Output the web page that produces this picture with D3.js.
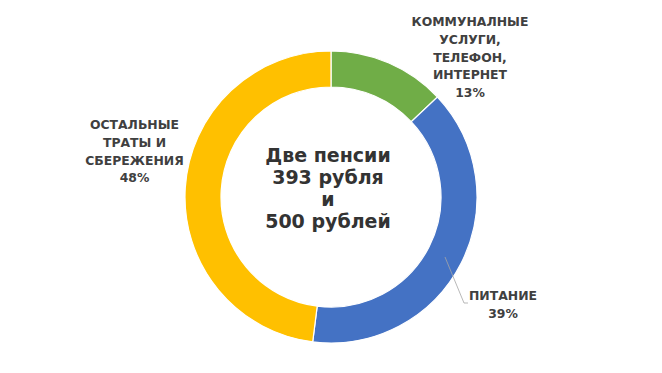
<!DOCTYPE html>
<html><head><meta charset="utf-8">
<script src="https://cdn.jsdelivr.net/npm/d3@7"></script>
<style>html,body{margin:0;padding:0;background:#fff;}svg{display:block;}</style>
</head><body>
<script>
const categories = ["КОММУНАЛНЫЕ УСЛУГИ, ТЕЛЕФОН, ИНТЕРНЕТ", "ПИТАНИЕ", "ОСТАЛЬНЫЕ ТРАТЫ И СБЕРЕЖЕНИЯ"];
const values = [13, 39, 48];
const colors = ["#70AD47", "#4472C4", "#FFC000"];
const labelLines = [["КОММУНАЛНЫЕ", "УСЛУГИ,", "ТЕЛЕФОН,", "ИНТЕРНЕТ", "13%"], ["ПИТАНИЕ", "39%"], ["ОСТАЛЬНЫЕ", "ТРАТЫ И", "СБЕРЕЖЕНИЯ", "48%"]];
const centerLines = ["Две пенсии", "393 рубля", "и", "500 рублей"];

const W = 662, H = 373;
const cx = 331, cy = 197, rOut = 146, rIn = 110;
const svg = d3.select("body").append("svg").attr("width", W).attr("height", H);
svg.append("rect").attr("width", W).attr("height", H).attr("fill", "#fff");

const pie = d3.pie().sort(null).value(d => d);
const arcs = pie(values);
const arc = d3.arc().innerRadius(rIn).outerRadius(rOut);
const g = svg.append("g").attr("transform", `translate(${cx},${cy})`);
g.selectAll("path").data(arcs).join("path")
  .attr("d", arc).attr("fill", (d, i) => colors[i])
  .attr("stroke", "#fff").attr("stroke-width", 1.2);

const labelPos = [{x: 470, y: 22}, {x: 503, y: 296}, {x: 134.5, y: 125}];
const lh = 17.6;
labelLines.forEach((lines, i) => {
  const t = svg.append("text").attr("text-anchor", "middle")
    .attr("font-family", "DejaVu Sans, sans-serif")
    .attr("font-weight", "bold").attr("font-size", 12.4).attr("fill", "#404040");
  lines.forEach((s, j) => {
    t.append("tspan").attr("x", labelPos[i].x).attr("y", labelPos[i].y + j * lh)
      .attr("dy", "0.36em").text(s);
  });
});

// leader line for ПИТАНИЕ
svg.append("polyline")
  .attr("points", [[445, 257], [464, 303], [468, 303]].map(p => p.join(",")).join(" "))
  .attr("fill", "none").attr("stroke", "#A6A6A6").attr("stroke-width", 0.8);

const ct = svg.append("text").attr("text-anchor", "middle")
  .attr("font-family", "DejaVu Sans, sans-serif")
  .attr("font-weight", "bold").attr("font-size", 19).attr("fill", "#333");
centerLines.forEach((s, j) => {
  ct.append("tspan").attr("x", 328).attr("y", 155 + j * 22).attr("dy", "0.36em").text(s);
});
</script>
</body></html>
